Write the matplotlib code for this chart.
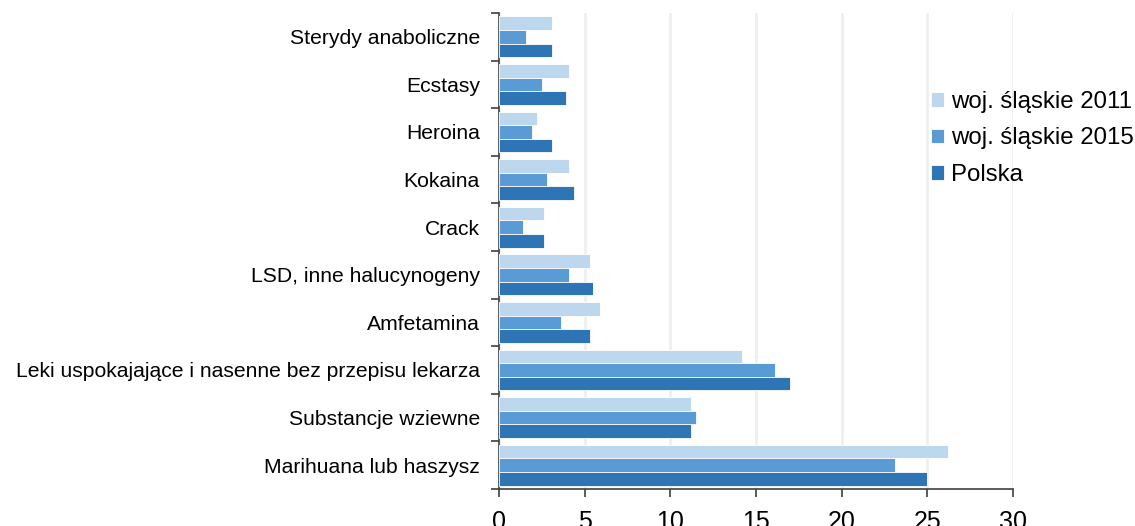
import numpy as np
import matplotlib.pyplot as plt
from matplotlib.ticker import FixedLocator

plt.rcParams['font.family'] = ['Liberation Sans', 'DejaVu Sans']

categories = ['Sterydy anaboliczne', 'Ecstasy', 'Heroina', 'Kokaina', 'Crack',
              'LSD, inne halucynogeny', 'Amfetamina',
              'Leki uspokajające i nasenne bez przepisu lekarza',
              'Substancje wziewne', 'Marihuana lub haszysz']
slaskie_2011 = [3.1, 4.1, 2.2, 4.1, 2.6, 5.3, 5.9, 14.2, 11.2, 26.2]
slaskie_2015 = [1.6, 2.5, 1.9, 2.8, 1.4, 4.1, 3.6, 16.1, 11.5, 23.1]
polska = [3.1, 3.9, 3.1, 4.4, 2.6, 5.5, 5.3, 17.0, 11.2, 25.0]
series_labels = ['woj. śląskie 2011', 'woj. śląskie 2015', 'Polska']
colors = ['#bdd7ee', '#5b9bd5', '#2e75b6']

fig = plt.figure(figsize=(11.35, 5.26), dpi=100)
ax = fig.add_axes([499/1135, 1 - 489/526, (1013-499)/1135, (489-13)/526])

n = len(categories)
y = np.arange(n)
h = 0.285
for i, (vals, lab, c) in enumerate(zip([slaskie_2011, slaskie_2015, polska], series_labels, colors)):
    ax.barh(y + (i - 1) * h, vals, height=h, color=c, label=lab,
            edgecolor='white', linewidth=0.6, zorder=3)

ax.set_ylim(n - 0.5, -0.5)
ax.set_xlim(0, 30)
ax.set_xticks(np.arange(0, 31, 5))
ax.set_yticks(y)
ax.set_yticklabels(categories, fontsize=15.2)
ax.yaxis.set_minor_locator(FixedLocator(np.arange(-0.5, n, 1)))
ax.tick_params(axis='y', which='major', length=0, pad=13.7)
ax.tick_params(axis='y', which='minor', length=6, width=1.2, color='#404040', direction='out')
# the reference crops the bottom of the x tick numbers at the figure edge
ax.tick_params(axis='x', labelsize=18, length=6, width=1.2, color='#404040', pad=9)

ax.grid(axis='x', color='#efefef', linewidth=2, zorder=0)
for s in ['top', 'right']:
    ax.spines[s].set_visible(False)
ax.spines['left'].set_color('#404040')
ax.spines['bottom'].set_color('#404040')
ax.spines['left'].set_linewidth(1.2)
ax.spines['bottom'].set_linewidth(1.2)

ax.legend(loc='upper left', bbox_to_anchor=(931/1135, 1 - 91/526), bbox_transform=fig.transFigure,
          frameon=False, fontsize=17.3, handlelength=0.55, handleheight=0.55, handletextpad=0.3,
          labelspacing=0.6, borderaxespad=0, borderpad=0)

fig.savefig('out.png', dpi=100)
